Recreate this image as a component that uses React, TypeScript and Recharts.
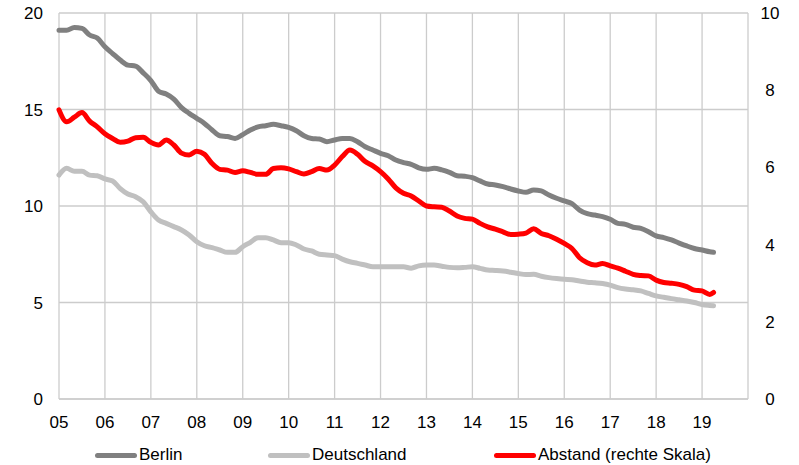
import { LineChart, Line, XAxis, YAxis, CartesianGrid } from 'recharts'

// bimonthly readings, 2005-01 .. 2019-03 (last step is one month)
const BERLIN = [
  19.1, 19.1, 19.25, 19.2, 18.86, 18.7,
  18.25, 17.9, 17.56, 17.3, 17.25, 16.9,
  16.5, 15.95, 15.8, 15.54, 15.1, 14.8,
  14.54, 14.28, 13.94, 13.64, 13.6, 13.5,
  13.7, 13.94, 14.1, 14.16, 14.23, 14.16,
  14.07, 13.9, 13.64, 13.5, 13.47, 13.33,
  13.42, 13.5, 13.5, 13.33, 13.07, 12.9,
  12.73, 12.6, 12.38, 12.25, 12.16, 11.98,
  11.9, 11.95, 11.87, 11.74, 11.57, 11.54,
  11.47, 11.3, 11.14, 11.09, 11.0, 10.88,
  10.78, 10.71, 10.83, 10.78, 10.57, 10.4,
  10.26, 10.12, 9.79, 9.6, 9.53, 9.45,
  9.31, 9.1, 9.05, 8.9, 8.84, 8.67,
  8.45, 8.36, 8.24, 8.08, 7.93, 7.8,
  7.72, 7.63, 7.6,
]

const DEUTSCHLAND = [
  11.6, 11.95, 11.8, 11.8, 11.6, 11.57,
  11.4, 11.3, 10.9, 10.62, 10.48, 10.22,
  9.7, 9.27, 9.1, 8.93, 8.76, 8.5,
  8.15, 7.94, 7.84, 7.72, 7.6, 7.6,
  7.89, 8.12, 8.36, 8.36, 8.24, 8.1,
  8.1, 7.98, 7.77, 7.67, 7.5, 7.46,
  7.43, 7.25, 7.11, 7.03, 6.94, 6.85,
  6.85, 6.85, 6.85, 6.85, 6.78, 6.9,
  6.94, 6.94, 6.88, 6.82, 6.8, 6.82,
  6.85, 6.77, 6.68, 6.66, 6.63, 6.57,
  6.5, 6.45, 6.46, 6.36, 6.29, 6.24,
  6.2, 6.18, 6.11, 6.05, 6.02, 5.98,
  5.9, 5.77, 5.7, 5.66, 5.6, 5.47,
  5.34, 5.27, 5.2, 5.14, 5.08, 5.0,
  4.9, 4.85, 4.83,
]

// right scale
const ABSTAND = [
  7.49, 7.18, 7.3, 7.42, 7.2, 7.05,
  6.87, 6.75, 6.65, 6.68, 6.77, 6.78,
  6.65, 6.58, 6.71, 6.58, 6.37, 6.32,
  6.42, 6.34, 6.1, 5.95, 5.93, 5.87,
  5.91, 5.87, 5.82, 5.82, 5.97, 5.99,
  5.96, 5.89, 5.83, 5.89, 5.97, 5.93,
  6.06, 6.28, 6.45, 6.34, 6.15, 6.04,
  5.89, 5.7, 5.47, 5.33, 5.26, 5.13,
  5.0, 4.98, 4.97, 4.87, 4.74, 4.68,
  4.66, 4.55, 4.46, 4.4, 4.33, 4.26,
  4.27, 4.3, 4.41, 4.29, 4.23, 4.14,
  4.03, 3.9, 3.66, 3.53, 3.47, 3.51,
  3.45, 3.39, 3.31, 3.23, 3.2, 3.19,
  3.08, 3.02, 3.0, 2.97, 2.91, 2.82,
  2.8, 2.71, 2.76,
]

const YEAR_TICKS = [2005, 2006, 2007, 2008, 2009, 2010, 2011, 2012, 2013, 2014, 2015, 2016, 2017, 2018, 2019, 2020]
const LEFT_TICKS = [0, 5, 10, 15, 20]
const RIGHT_TICKS = [0, 2, 4, 6, 8, 10]

const SERIES = [
  { key: 'berlin', name: 'Berlin', color: '#808080', axis: 'left' },
  { key: 'de', name: 'Deutschland', color: '#c0c0c0', axis: 'left' },
  { key: 'abstand', name: 'Abstand (rechte Skala)', color: '#ff0000', axis: 'right' },
]

const data = BERLIN.map((b, i) => {
  const month = i < 86 ? i * 2 : 171
  return { t: 2005 + month / 12, berlin: b, de: DEUTSCHLAND[i], abstand: ABSTAND[i] }
})

const FONT = '"Liberation Sans", Arial, sans-serif'
const grid = '#cccccc'

function RightTick({ x, y, payload }: any) {
  return (
    <text x={x + 20} y={y} dy="0.35em" textAnchor="middle" fontSize={17} fill="#000" fontFamily={FONT}>
      {payload.value}
    </text>
  )
}

const legendPos = [95, 268, 494]

export default function App() {
  return (
    <div style={{ position: 'absolute', left: 0, top: 0, width: 799, height: 465, background: '#fff', fontFamily: FONT }}>
      <LineChart width={799} height={465} data={data} margin={{ top: 13, right: 6, left: 9, bottom: 36 }}>
        <CartesianGrid yAxisId="left" stroke={grid} strokeWidth={1.3} />
        <XAxis
          dataKey="t"
          type="number"
          domain={[2005, 2020]}
          ticks={YEAR_TICKS}
          interval={0}
          height={30}
          tickFormatter={(v: number) => (v === 2020 ? '' : String(v % 100).padStart(2, '0'))}
          tick={{ fontSize: 17, fill: '#000', fontFamily: FONT }}
          tickLine={false}
          tickSize={0}
          tickMargin={17}
          axisLine={{ stroke: grid, strokeWidth: 1.3 }}
        />
        <YAxis
          yAxisId="left"
          domain={[0, 20]}
          ticks={LEFT_TICKS}
          width={50}
          tick={{ fontSize: 17, fill: '#000', fontFamily: FONT }}
          tickLine={false}
          tickSize={0}
          tickMargin={16}
          axisLine={false}
        />
        <YAxis
          yAxisId="right"
          orientation="right"
          domain={[0, 10]}
          ticks={RIGHT_TICKS}
          width={45}
          tick={<RightTick />}
          tickLine={false}
          tickSize={0}
          axisLine={false}
        />
        {SERIES.map(s => (
          <Line
            key={s.key}
            yAxisId={s.axis}
            dataKey={s.key}
            name={s.name}
            type="monotone"
            stroke={s.color}
            strokeWidth={5}
            strokeLinecap="round"
            strokeLinejoin="round"
            dot={false}
            isAnimationActive={false}
          />
        ))}
      </LineChart>
      {SERIES.map((s, i) => (
        <div key={s.key} style={{ position: 'absolute', left: legendPos[i], top: 445, display: 'flex', alignItems: 'center', fontSize: 17, color: '#000', whiteSpace: 'nowrap' }}>
          <span style={{ display: 'inline-block', width: 42, height: 5, borderRadius: 3, background: s.color, marginRight: 2 }} />
          <span>{s.name}</span>
        </div>
      ))}
    </div>
  )
}
